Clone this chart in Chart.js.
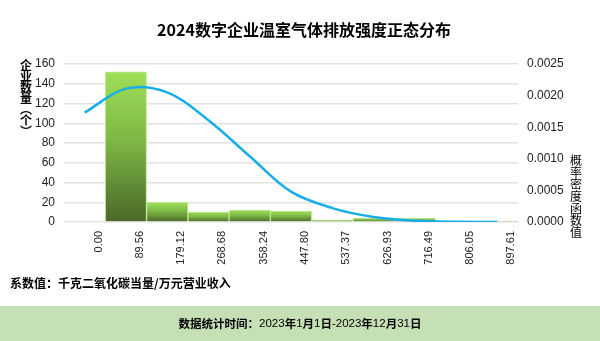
<!DOCTYPE html>
<html>
<head>
<meta charset="utf-8">
<script src="https://cdn.jsdelivr.net/npm/chart.js@4.4.0/dist/chart.umd.min.js"></script>
<style>
  html, body { margin: 0; padding: 0; background: #fff; }
</style>
</head>
<body>
<canvas id="dist-chart" width="600" height="341"></canvas>
<script>
// 分组边界 (千克二氧化碳当量/万元营业收入)
const binLabels = ['0.00', '89.56', '179.12', '268.68', '358.24', '447.80', '537.37', '626.93', '716.49', '806.05', '897.61']
// 各区间企业数量
const companyCounts = [0, 152, 20, 10, 12, 11, 2, 4, 4, 1, 1]
// 正态分布概率密度
const densityValues = [0.00173, 0.00211, 0.00205, 0.00161, 0.00104, 0.00048, 0.00022, 0.00008, 0.00002, 0.000004, 0.000001]

const chartTitle = '2024数字企业温室气体排放强度正态分布'
const leftTitle = '企业数量︵个︶'
const rightTitle = '概率密度函数值'
const unitNote = '系数值：千克二氧化碳当量/万元营业收入'
const periodNote = '数据统计时间：2023年1月1日-2023年12月31日'

const cjk = "'Noto Sans CJK SC'"
const latin = "'Liberation Sans', Arial"

const ctx = document.getElementById('dist-chart')

// 每根柱子单独做上浅下深的渐变
function barGradient(c) {
  const chart = c.chart
  if (!chart.chartArea || c.type !== 'data') return '#8fd14f'
  const yScale = chart.scales.y
  const top = yScale.getPixelForValue(c.raw)
  const bottom = yScale.getPixelForValue(0)
  if (bottom - top < 1) return '#8fd14f'
  const g = chart.ctx.createLinearGradient(0, top, 0, bottom)
  g.addColorStop(0, '#9ddf58')
  g.addColorStop(0.45, '#7eb845')
  g.addColorStop(1, '#4b682a')
  return g
}

function drawVertical(c, text, x, y, step, font) {
  c.font = font
  c.textAlign = 'center'
  c.textBaseline = 'top'
  Array.from(text).forEach((ch, i) => c.fillText(ch, x, y + i * step))
}

// 中文加粗、数字常规
function drawMixed(c, text, cx, y, size) {
  const parts = Array.from(text).map((ch) => {
    const font = /[\x00-\x7f]/.test(ch) ? `${size}px ${latin}` : `bold ${size}px ${cjk}`
    c.font = font
    return { ch, font, w: c.measureText(ch).width }
  })
  const total = parts.reduce((s, p) => s + p.w, 0)
  let x = cx - total / 2
  c.textAlign = 'left'
  c.textBaseline = 'middle'
  parts.forEach((p) => {
    c.font = p.font
    c.fillText(p.ch, x, y)
    x += p.w
  })
}

const decorations = {
  id: 'decorations',
  afterDraw(chart) {
    const c = chart.ctx
    c.save()
    c.fillStyle = '#000'
    c.font = `bold 16px ${cjk}`
    c.textAlign = 'center'
    c.textBaseline = 'middle'
    c.fillText(chartTitle, 304, 30)

    drawVertical(c, leftTitle, 26, 59, 11, `bold 12px ${cjk}`)
    drawVertical(c, rightTitle, 576, 154, 12, `12px ${cjk}`)

    c.font = `bold 12px ${cjk}`
    c.textAlign = 'left'
    c.textBaseline = 'middle'
    c.fillText(unitNote, 10, 283)

    c.fillStyle = '#c5e0b4'
    c.fillRect(0, 306, 600, 35)
    c.fillStyle = '#000'
    drawMixed(c, periodNote, 300, 324, 11.5)
    c.restore()
  }
}

new Chart(ctx, {
  data: {
    labels: binLabels,
    datasets: [
      {
        type: 'line',
        label: '概率密度',
        data: densityValues,
        yAxisID: 'y1',
        borderColor: '#17aee8',
        borderWidth: 2.5,
        pointRadius: 0,
        tension: 0.35,
        fill: false,
        order: 0
      },
      {
        type: 'bar',
        label: '企业数量',
        data: companyCounts,
        yAxisID: 'y',
        backgroundColor: barGradient,
        borderColor: 'rgba(185, 232, 140, 0.9)',
        borderWidth: 1,
        barPercentage: 1,
        categoryPercentage: 1,
        order: 1
      }
    ]
  },
  options: {
    responsive: false,
    animation: false,
    layout: { padding: { top: 64, left: 0, right: 0, bottom: 0 } },
    plugins: {
      legend: { display: false },
      tooltip: { enabled: false }
    },
    scales: {
      x: {
        offset: true,
        grid: { display: false, drawTicks: false },
        border: { display: false },
        ticks: {
          minRotation: 90,
          maxRotation: 90,
          autoSkip: false,
          padding: 9,
          labelOffset: 14,
          color: '#222',
          font: { family: latin, size: 11 }
        },
        afterFit: (scale) => { scale.height = 119 }
      },
      y: {
        position: 'left',
        min: 0,
        max: 160,
        grid: { color: '#e2e2e2', lineWidth: 1.5, drawTicks: false },
        border: { display: false },
        ticks: {
          stepSize: 20,
          padding: 9,
          color: '#222',
          font: { family: latin, size: 12 }
        },
        afterFit: (scale) => { scale.width = 64 }
      },
      y1: {
        position: 'right',
        min: 0,
        max: 0.0025,
        grid: { display: false, drawTicks: false },
        border: { display: false },
        ticks: {
          stepSize: 0.0005,
          padding: 9,
          color: '#222',
          font: { family: latin, size: 12 },
          callback: (v) => Number(v).toFixed(4)
        },
        afterFit: (scale) => { scale.width = 82 }
      }
    }
  },
  plugins: [decorations]
})
</script>
</body>
</html>
